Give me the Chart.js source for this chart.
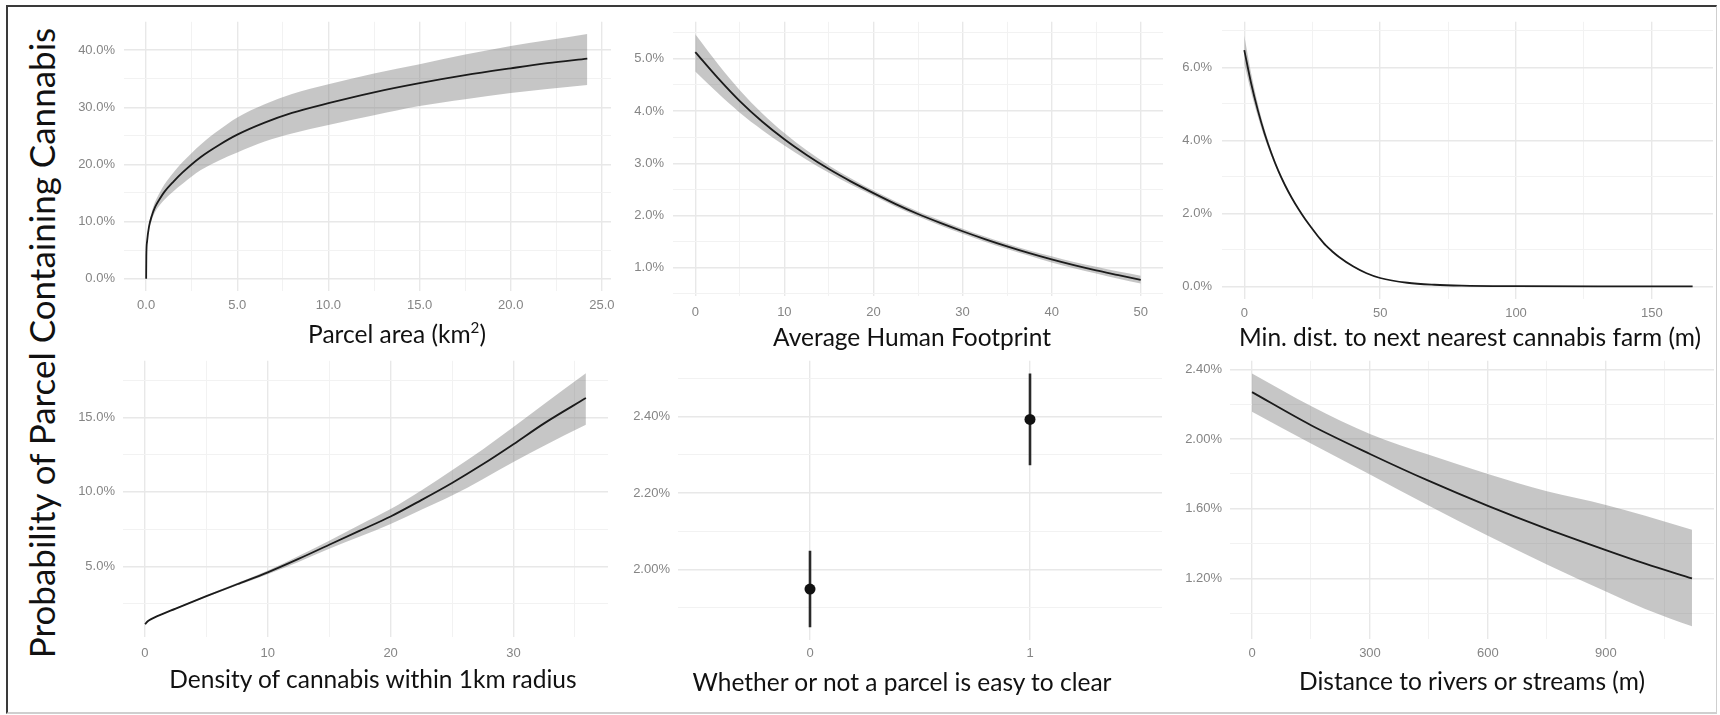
<!DOCTYPE html>
<html>
<head>
<meta charset="utf-8">
<script src="https://cdn.jsdelivr.net/npm/chart.js@4.4.0/dist/chart.umd.min.js"></script>
<style>
    body { margin: 0; background: #fff; width: 1720px; height: 715px; overflow: hidden; position: relative; font-family: Lato, sans-serif; }
    #frame { position: absolute; left: 6px; top: 5px; width: 1711px; height: 709px; box-sizing: border-box;
        border-top: 2px solid #3a3a3a; border-left: 2px solid #3a3a3a; border-right: 1px solid #cfcfcf; border-bottom: 2px solid #cfcfcf; }
    canvas { position: absolute; }
    .xtitle { position: absolute; transform: translate(-50%, -50%); white-space: nowrap; font-size: 24.5px; color: #111; z-index: 2; }
    .xtitle sup { font-size: 0.62em; }
    #ytitle { position: absolute; left: 41px; top: 343px; transform: translate(-50%, -50%) rotate(-90deg);
        font-size: 35px; white-space: nowrap; color: #111; z-index: 2; }
</style>
</head>
<body>
<div id="frame"></div>
<div id="ytitle">Probability of Parcel Containing Cannabis</div>

<canvas id="parcel_area_chart"></canvas>
<canvas id="footprint_chart"></canvas>
<canvas id="nearest_farm_chart"></canvas>
<canvas id="density_chart"></canvas>
<canvas id="easy_clear_chart"></canvas>
<canvas id="river_chart"></canvas>

<div class="xtitle" style="left:397px; top:333px;">Parcel area (km<sup>2</sup>)</div>
<div class="xtitle" style="left:912px; top:336px;">Average Human Footprint</div>
<div class="xtitle" style="left:1470px; top:336px;">Min. dist. to next nearest cannabis farm (m)</div>
<div class="xtitle" style="left:373px; top:678px;">Density of cannabis within 1km radius</div>
<div class="xtitle" style="left:902px; top:681px;">Whether or not a parcel is easy to clear</div>
<div class="xtitle" style="left:1472px; top:680px;">Distance to rivers or streams (m)</div>

<script>
// --- parcel area (km2) ---
const parcel_area_x = [0, 0.01, 0.05, 0.15, 0.3, 0.5, 0.75, 1, 1.5, 2, 3, 4, 5, 6.5, 8, 10, 12.5, 15, 17.5, 20, 22, 24.2];
const parcel_area_fit = [0, 4.0, 6.5, 9.0, 10.9, 12.6, 14.0, 15.2, 17.0, 18.6, 21.3, 23.4, 25.2, 27.3, 29.0, 30.7, 32.6, 34.2, 35.6, 36.8, 37.7, 38.5];
const parcel_area_upper = [0, 4.2, 6.9, 9.5, 11.6, 13.5, 15.1, 16.5, 18.6, 20.4, 23.5, 26.0, 28.2, 30.5, 32.3, 34.0, 35.9, 37.5, 39.2, 40.7, 41.7, 42.8];
const parcel_area_lower = [0, 3.8, 6.1, 8.5, 10.2, 11.7, 12.9, 13.8, 15.3, 16.6, 19.0, 20.7, 22.1, 24.0, 25.4, 26.9, 28.6, 30.2, 31.4, 32.5, 33.2, 33.9];
const parcel_area_x_ticks = [0, 5, 10, 15, 20, 25];
const parcel_area_x_labels = ['0.0', '5.0', '10.0', '15.0', '20.0', '25.0'];
const parcel_area_x_minor = [2.5, 7.5, 12.5, 17.5, 22.5];
const parcel_area_y_ticks = [0, 10, 20, 30, 40];
const parcel_area_y_labels = ['0.0%', '10.0%', '20.0%', '30.0%', '40.0%'];
const parcel_area_y_minor = [5, 15, 25, 35];

// --- average human footprint ---
const footprint_x = [0, 2.5, 5, 7.5, 10, 12.5, 15, 17.5, 20, 22.5, 25, 27.5, 30, 32.5, 35, 37.5, 40, 42.5, 45, 47.5, 50];
const footprint_fit = [5.13, 4.64, 4.19, 3.80, 3.46, 3.16, 2.89, 2.65, 2.43, 2.22, 2.03, 1.86, 1.70, 1.55, 1.41, 1.28, 1.16, 1.05, 0.95, 0.86, 0.77];
const footprint_upper = [5.47, 4.91, 4.40, 3.96, 3.58, 3.25, 2.96, 2.71, 2.48, 2.27, 2.08, 1.91, 1.75, 1.60, 1.46, 1.33, 1.22, 1.11, 1.02, 0.93, 0.85];
const footprint_lower = [4.76, 4.35, 3.97, 3.64, 3.34, 3.07, 2.82, 2.59, 2.38, 2.17, 1.98, 1.81, 1.65, 1.50, 1.36, 1.23, 1.10, 0.99, 0.89, 0.79, 0.70];
const footprint_x_ticks = [0, 10, 20, 30, 40, 50];
const footprint_x_labels = ['0', '10', '20', '30', '40', '50'];
const footprint_x_minor = [5, 15, 25, 35, 45];
const footprint_y_ticks = [1, 2, 3, 4, 5];
const footprint_y_labels = ['1.0%', '2.0%', '3.0%', '4.0%', '5.0%'];
const footprint_y_minor = [0.5, 1.5, 2.5, 3.5, 4.5, 5.5];

// --- min. distance to next nearest cannabis farm (m) ---
const nearest_farm_x = [0, 2.5, 5, 7.5, 10, 12.5, 15, 17.5, 20, 22.5, 25, 27.5, 30, 32.5, 35, 40, 45, 50, 60, 70, 80, 100, 130, 165];
const nearest_farm_fit = [6.47, 5.57, 4.82, 4.18, 3.64, 3.17, 2.77, 2.42, 2.11, 1.83, 1.58, 1.34, 1.12, 0.95, 0.80, 0.55, 0.36, 0.23, 0.10, 0.045, 0.02, 0.005, 0, 0];
const nearest_farm_upper = [6.87, 5.85, 5.0, 4.3, 3.72, 3.22, 2.81, 2.45, 2.13, 1.85, 1.60, 1.36, 1.13, 0.96, 0.81, 0.56, 0.37, 0.24, 0.105, 0.047, 0.021, 0.005, 0, 0];
const nearest_farm_lower = [6.1, 5.32, 4.65, 4.06, 3.56, 3.12, 2.73, 2.39, 2.09, 1.81, 1.56, 1.32, 1.11, 0.94, 0.79, 0.54, 0.35, 0.22, 0.095, 0.043, 0.019, 0.005, 0, 0];
const nearest_farm_x_ticks = [0, 50, 100, 150];
const nearest_farm_x_labels = ['0', '50', '100', '150'];
const nearest_farm_x_minor = [25, 75, 125];
const nearest_farm_y_ticks = [0, 2, 4, 6];
const nearest_farm_y_labels = ['0.0%', '2.0%', '4.0%', '6.0%'];
const nearest_farm_y_minor = [1, 3, 5, 7];

// --- density of cannabis within 1km radius ---
const density_x = [0, 0.25, 0.5, 1, 2.5, 5, 7.5, 10, 12.5, 15, 17.5, 20, 22.5, 25, 27.5, 30, 32.5, 35.9];
const density_fit = [1.12, 1.33, 1.46, 1.66, 2.17, 3.0, 3.8, 4.6, 5.5, 6.45, 7.4, 8.35, 9.45, 10.6, 11.85, 13.2, 14.6, 16.3];
const density_upper = [1.14, 1.35, 1.49, 1.69, 2.21, 3.06, 3.88, 4.72, 5.7, 6.72, 7.8, 8.85, 10.1, 11.45, 12.85, 14.35, 15.9, 17.96];
const density_lower = [1.08, 1.30, 1.43, 1.62, 2.12, 2.94, 3.72, 4.48, 5.3, 6.18, 7.0, 7.85, 8.8, 9.75, 10.85, 12.0, 13.1, 14.5];
const density_x_ticks = [0, 10, 20, 30];
const density_x_labels = ['0', '10', '20', '30'];
const density_x_minor = [5, 15, 25, 35];
const density_y_ticks = [5, 10, 15];
const density_y_labels = ['5.0%', '10.0%', '15.0%'];
const density_y_minor = [2.5, 7.5, 12.5, 17.5];

// --- whether or not a parcel is easy to clear ---
const easy_clear_x = [0, 1];
const easy_clear_fit = [1.949, 2.392];
const easy_clear_lower = [1.849, 2.272];
const easy_clear_upper = [2.049, 2.512];
const easy_clear_x_ticks = [0, 1];
const easy_clear_x_labels = ['0', '1'];
const easy_clear_y_ticks = [2.0, 2.2, 2.4];
const easy_clear_y_labels = ['2.00%', '2.20%', '2.40%'];
const easy_clear_y_minor = [1.9, 2.1, 2.3, 2.5];

// --- distance to rivers or streams (m) ---
const river_x = [0, 150, 300, 450, 600, 750, 900, 1000, 1119];
const river_fit = [2.27, 2.08, 1.915, 1.76, 1.617, 1.485, 1.363, 1.285, 1.20];
const river_upper = [2.377, 2.19, 2.03, 1.91, 1.80, 1.70, 1.622, 1.56, 1.48];
const river_lower = [2.158, 1.975, 1.797, 1.617, 1.445, 1.28, 1.125, 1.025, 0.925];
const river_x_ticks = [0, 300, 600, 900];
const river_x_labels = ['0', '300', '600', '900'];
const river_x_minor = [150, 450, 750, 1050];
const river_y_ticks = [1.2, 1.6, 2.0, 2.4];
const river_y_labels = ['1.20%', '1.60%', '2.00%', '2.40%'];
const river_y_minor = [1.0, 1.4, 1.8, 2.2];

Chart.defaults.font.family = "'Liberation Sans', Arial, sans-serif";
Chart.defaults.font.size = 13;
Chart.defaults.color = '#858585';

function findTick(my_ticks, value) {
    return my_ticks.findIndex(t => Math.abs(t - value) < 1e-9);
}

function toPoints(xs, ys) {
    return xs.map((x, i) => ({x: x, y: ys[i]}));
}

function makeAxis(range, major, labels, minor, pad, is_x) {
    return {
        type: 'linear', bounds: 'data', min: range[0], max: range[1],
        border: {display: false},
        afterBuildTicks: function (scale) {
            scale.ticks = major.concat(minor).sort((a, b) => a - b).map(v => ({value: v}));
        },
        afterFit: function (scale) {
            if (is_x) scale.height = 40; else scale.width = 60;
        },
        grid: {
            drawTicks: false,
            color: ctx => (ctx.tick && findTick(major, ctx.tick.value) >= 0) ? '#e8e8e8' : '#f2f2f2',
            lineWidth: ctx => (ctx.tick && findTick(major, ctx.tick.value) >= 0) ? 1.4 : 1,
        },
        ticks: {
            autoSkip: false, maxRotation: 0, padding: pad,
            callback: function (value) {
                const i = findTick(major, value);
                return i >= 0 ? labels[i] : '';
            }
        }
    };
}

// box = plot area in page pixels
function createEffectChart(my_graph_id, box, datasets, x_axis, y_axis) {
    const canvas = document.getElementById(my_graph_id);
    const pad_top = 10, pad_right = 24;
    canvas.width = 60 + (box.r - box.l) + pad_right;
    canvas.height = pad_top + (box.b - box.t) + 40;
    canvas.style.left = (box.l - 60) + 'px';
    canvas.style.top = (box.t - pad_top) + 'px';
    new Chart(canvas, {
        type: 'line',
        data: {datasets: datasets},
        options: {
            responsive: false, animation: false, events: [],
            layout: {padding: {top: pad_top, right: pad_right, left: 0, bottom: 0}},
            scales: {x: x_axis, y: y_axis},
            plugins: {legend: {display: false}, tooltip: {enabled: false}}
        }
    });
}

function bandDatasets(xs, fit, lower, upper) {
    return [
        {data: toPoints(xs, fit), borderColor: '#1b1b1b', borderWidth: 1.8, pointRadius: 0, fill: false, cubicInterpolationMode: 'monotone'},
        {data: toPoints(xs, lower), borderColor: 'transparent', borderWidth: 0, pointRadius: 0, fill: false, cubicInterpolationMode: 'monotone'},
        {data: toPoints(xs, upper), borderColor: 'transparent', borderWidth: 0, pointRadius: 0, fill: '-1',
            backgroundColor: 'rgba(120,120,120,0.42)', cubicInterpolationMode: 'monotone'}
    ];
}

createEffectChart('parcel_area_chart', {l: 124, t: 15, r: 611, b: 291},
    bandDatasets(parcel_area_x, parcel_area_fit, parcel_area_lower, parcel_area_upper),
    makeAxis([-1.215, 25.5], parcel_area_x_ticks, parcel_area_x_labels, parcel_area_x_minor, 7, true),
    makeAxis([-2.14, 44.94], parcel_area_y_ticks, parcel_area_y_labels, parcel_area_y_minor, 9, false));

createEffectChart('footprint_chart', {l: 673, t: 15, r: 1163, b: 296},
    bandDatasets(footprint_x, footprint_fit, footprint_lower, footprint_upper),
    makeAxis([-2.5, 52.5], footprint_x_ticks, footprint_x_labels, footprint_x_minor, 9, true),
    makeAxis([0.46, 5.71], footprint_y_ticks, footprint_y_labels, footprint_y_minor, 9, false));

createEffectChart('nearest_farm_chart', {l: 1222, t: 14, r: 1713, b: 299},
    bandDatasets(nearest_farm_x, nearest_farm_fit, nearest_farm_lower, nearest_farm_upper),
    makeAxis([-8.2, 172.5], nearest_farm_x_ticks, nearest_farm_x_labels, nearest_farm_x_minor, 7, true),
    makeAxis([-0.345, 7.245], nearest_farm_y_ticks, nearest_farm_y_labels, nearest_farm_y_minor, 10, false));

createEffectChart('density_chart', {l: 123, t: 355, r: 608, b: 637},
    bandDatasets(density_x, density_fit, density_lower, density_upper),
    makeAxis([-1.79, 37.7], density_x_ticks, density_x_labels, density_x_minor, 9, true),
    makeAxis([0.26, 18.8], density_y_ticks, density_y_labels, density_y_minor, 8, false));

// point estimates with vertical error bars
const easy_clear_sets = [
    {data: toPoints(easy_clear_x, easy_clear_fit), showLine: false, pointRadius: 5.5,
        pointBackgroundColor: '#111', pointBorderWidth: 0}
];
for (let i = 0; i < easy_clear_x.length; i++) {
    easy_clear_sets.push({
        data: [{x: easy_clear_x[i], y: easy_clear_lower[i]}, {x: easy_clear_x[i], y: easy_clear_upper[i]}],
        borderColor: '#2a2a2a', borderWidth: 2.6, pointRadius: 0, fill: false
    });
}
createEffectChart('easy_clear_chart', {l: 678, t: 355, r: 1162, b: 640}, easy_clear_sets,
    makeAxis([-0.6, 1.6], easy_clear_x_ticks, easy_clear_x_labels, [], 6, true),
    makeAxis([1.816, 2.545], easy_clear_y_ticks, easy_clear_y_labels, easy_clear_y_minor, 8, false));

createEffectChart('river_chart', {l: 1230, t: 355, r: 1714, b: 639},
    bandDatasets(river_x, river_fit, river_lower, river_upper),
    makeAxis([-56, 1175], river_x_ticks, river_x_labels, river_x_minor, 7, true),
    makeAxis([0.852, 2.45], river_y_ticks, river_y_labels, river_y_minor, 8, false));
</script>
</body>
</html>
